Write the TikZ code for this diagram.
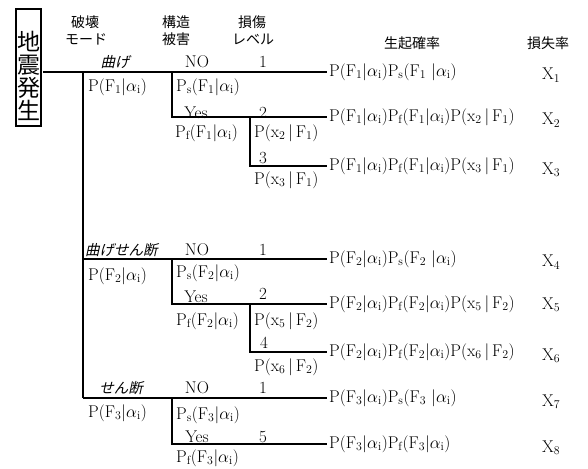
\documentclass[tikz,border=0pt]{standalone}
\usepackage{fontspec}
\newfontfamily\jp{Noto Sans CJK JP}
\newfontfamily\jpi[FakeSlant=0.22]{Noto Sans CJK JP}
\newcommand\sbs[1]{\textsubscript{#1}}
\newcommand\al{$\alpha$\sbs{i}}
\begin{document}
\begin{tikzpicture}[x=1pt,y=-1pt,
  tree/.style={line width=1.5pt},
  hdr/.style={font=\jp\fontsize{14}{16}\selectfont, align=center, inner sep=0pt},
  mode/.style={font=\jpi\fontsize{14.5}{16}\selectfont, inner sep=0pt},
  lbl/.style={font=\fontsize{17}{19}\selectfont, inner sep=0pt},
  prob/.style={font=\fontsize{17}{19}\selectfont, anchor=west, inner sep=0pt},
  res/.style={font=\fontsize{17}{19}\selectfont, anchor=west, inner sep=2pt},
  loss/.style={font=\fontsize{17}{19}\selectfont, anchor=west, inner sep=0pt}]
\useasboundingbox (0,0) rectangle (588,468);

% event box
\draw[line width=1.3pt] (16,9) rectangle (41,126);
\node[font=\jp\fontsize{23}{23}\selectfont, align=center, inner sep=0pt] (eq) at (28.5,76) {地\\震\\発\\生};

% column headings
\node[hdr] (h1a) at (85,22) {破壊};
\node[hdr] (h1b) at (86,39) {モード};
\node[hdr] (h2a) at (176,22) {構造};
\node[hdr] (h2b) at (176,39) {被害};
\node[hdr] (h3a) at (252,22) {損傷};
\node[hdr] (h3b) at (253,39) {レベル};
\node[hdr] (h4) at (412,43) {生起確率};
\node[hdr] (h5) at (548,43) {損失率};

% outcome probabilities
\node[res] (r1) at (327,72) {P(F\sbs1|\al)P\sbs s(F\sbs1 |\al)};
\node[res] (r2) at (327,117) {P(F\sbs1|\al)P\sbs f(F\sbs1|\al)P(x\sbs2\,|\,F\sbs1)};
\node[res] (r3) at (327,166) {P(F\sbs1|\al)P\sbs f(F\sbs1|\al)P(x\sbs3\,|\,F\sbs1)};
\node[res] (r4) at (327,259) {P(F\sbs2|\al)P\sbs s(F\sbs2 |\al)};
\node[res] (r5) at (327,304) {P(F\sbs2|\al)P\sbs f(F\sbs2|\al)P(x\sbs5\,|\,F\sbs2)};
\node[res] (r6) at (327,352) {P(F\sbs2|\al)P\sbs f(F\sbs2|\al)P(x\sbs6\,|\,F\sbs2)};
\node[res] (r7) at (327,398) {P(F\sbs3|\al)P\sbs s(F\sbs3 |\al)};
\node[res] (r8) at (327,444) {P(F\sbs3|\al)P\sbs f(F\sbs3|\al)};

% loss ratios
\node[loss] (x1) at (542,75) {X\sbs1};
\node[loss] (x2) at (542,120) {X\sbs2};
\node[loss] (x3) at (542,170) {X\sbs3};
\node[loss] (x4) at (542,262) {X\sbs4};
\node[loss] (x5) at (542,305) {X\sbs5};
\node[loss] (x6) at (542,356) {X\sbs6};
\node[loss] (x7) at (542,402) {X\sbs7};
\node[loss] (x8) at (542,448) {X\sbs8};

% tree junctions
\coordinate (root) at (43,72);
\coordinate (m1) at (83,72);
\coordinate (m2) at (83,259);
\coordinate (m3) at (83,398);
\coordinate (s1) at (172,72);
\coordinate (s2) at (172,259);
\coordinate (s3) at (172,398);
\coordinate (l1) at (250,117);
\coordinate (l2) at (250,304);

\draw[tree] (root) -- (r1.west);
\draw[tree] (m1) -- (m3);
\draw[tree] (m2) -- (r4.west);
\draw[tree] (m3) -- (r7.west);
\draw[tree] (s1) |- (r2.west);
\draw[tree] (l1) |- (r3.west);
\draw[tree] (s2) |- (r5.west);
\draw[tree] (l2) |- (r6.west);
\draw[tree] (s3) |- (r8.west);

% failure modes
\node[mode] (f1) at (115,62) {曲げ};
\node[mode, anchor=west] (f2) at (85,250) {曲げせん断};
\node[mode] (f3) at (121,388) {せん断};
\node[prob] (p1) at (88,87) {P(F\sbs1|\al)};
\node[prob] (p2) at (88,276) {P(F\sbs2|\al)};
\node[prob] (p3) at (88,413) {P(F\sbs3|\al)};

% structural damage
\node[lbl] (n1) at (197,62) {NO};
\node[lbl] (n2) at (197,250) {NO};
\node[lbl] (n3) at (197,388) {NO};
\node[lbl] (y1) at (196,113) {Yes};
\node[lbl] (y2) at (196,297) {Yes};
\node[lbl] (y3) at (197,437) {Yes};
\node[prob] (ps1) at (176,87) {P\sbs s(F\sbs1|\al)};
\node[prob] (pf1) at (175,133) {P\sbs f(F\sbs1|\al)};
\node[prob] (ps2) at (176,273) {P\sbs s(F\sbs2|\al)};
\node[prob] (pf2) at (176,321) {P\sbs f(F\sbs2|\al)};
\node[prob] (ps3) at (176,415) {P\sbs s(F\sbs3|\al)};
\node[prob] (pf3) at (176,458) {P\sbs f(F\sbs3|\al)};

% damage levels
\node[lbl] (d1) at (263,62) {1};
\node[lbl] (d2) at (263,113) {2};
\node[lbl] (d3) at (263,158) {3};
\node[lbl] (d4) at (263,250) {1};
\node[lbl] (d5) at (263,294) {2};
\node[lbl] (d6) at (264,343) {4};
\node[lbl] (d7) at (263,388) {1};
\node[lbl] (d8) at (263,437) {5};
\node[prob] (q2) at (254,133) {P(x\sbs2\,|\,F\sbs1)};
\node[prob] (q3) at (254,180) {P(x\sbs3\,|\,F\sbs1)};
\node[prob] (q5) at (254,321) {P(x\sbs5\,|\,F\sbs2)};
\node[prob] (q6) at (254,367) {P(x\sbs6\,|\,F\sbs2)};
\end{tikzpicture}
\end{document}
